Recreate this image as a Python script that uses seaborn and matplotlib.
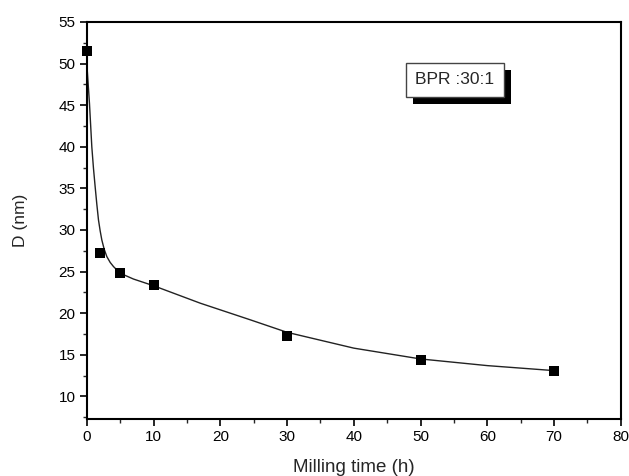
import matplotlib
matplotlib.use("Agg")
import matplotlib.pyplot as plt
import matplotlib.patheffects as pe
from matplotlib.ticker import MultipleLocator
import seaborn as sns
import pandas as pd

# measured data
milling_time = [0, 2, 5, 10, 30, 50, 70]
crystallite_size = [51.5, 27.2, 24.8, 23.4, 17.3, 14.4, 13.0]

# fitted curve
curve_time = [0, 0.2, 0.4, 0.75, 1.0, 1.25, 1.5, 1.75, 2.0, 2.25, 2.6, 3.0, 3.5, 4.0, 5.0,
              7.0, 10, 17, 24.5, 30, 40, 50, 60, 70]
curve_size = [50.0, 47.6, 45.2, 40.0, 37.4, 35.2, 33.1, 31.2, 29.9, 28.8, 27.7, 26.8, 26.1,
              25.6, 24.8, 24.1, 23.3, 21.2, 19.2, 17.7, 15.8, 14.5, 13.7, 13.1]

x_ticks = [0, 10, 20, 30, 40, 50, 60, 70, 80]
y_ticks = [10, 15, 20, 25, 30, 35, 40, 45, 50, 55]

sns.set_style("white")
plt.rcParams['font.family'] = ['Liberation Sans', 'DejaVu Sans']

df_pts = pd.DataFrame({"t": milling_time, "D": crystallite_size})
df_fit = pd.DataFrame({"t": curve_time, "D": curve_size})

fig = plt.figure(figsize=(6.29, 4.76), dpi=100)
ax = fig.add_axes([0.138, 0.12, 0.849, 0.834])

sns.lineplot(data=df_fit, x="t", y="D", ax=ax, color="#222222", lw=1.0, sort=False)
sns.scatterplot(data=df_pts, x="t", y="D", ax=ax, marker="s", s=45, color="black",
                edgecolor="black", linewidth=0, zorder=5, clip_on=False)

ax.set_xlim(0, 80)
ax.set_ylim(7.3, 55)
ax.set_xticks(x_ticks)
ax.set_yticks(y_ticks)
ax.xaxis.set_minor_locator(MultipleLocator(5))
ax.yaxis.set_minor_locator(MultipleLocator(2.5))
ax.tick_params(which="major", direction="out", length=5, width=1.2, labelsize=11,
               bottom=True, left=True, colors="black", pad=3)
ax.tick_params(which="minor", direction="out", length=3, width=1.0, bottom=True, left=True)
for s in ax.spines.values():
    s.set_visible(True)
    s.set_color("black")
    s.set_linewidth(1.5)

ax.set_xlabel("Milling time (h)", fontsize=13.5, labelpad=11)
ax.set_ylabel("D (nm)", fontsize=12.5, labelpad=22)

t = ax.text(0.689, 0.854, "BPR :30:1", transform=ax.transAxes, ha="center", va="center",
            fontsize=12.5, bbox=dict(boxstyle="square,pad=0.55", fc="white", ec="#444444", lw=1.0))
t.get_bbox_patch().set_path_effects([
    pe.SimplePatchShadow(offset=(5, -5), shadow_rgbFace="black", alpha=1.0),
    pe.Normal()])

fig.savefig("out.png", dpi=100)
